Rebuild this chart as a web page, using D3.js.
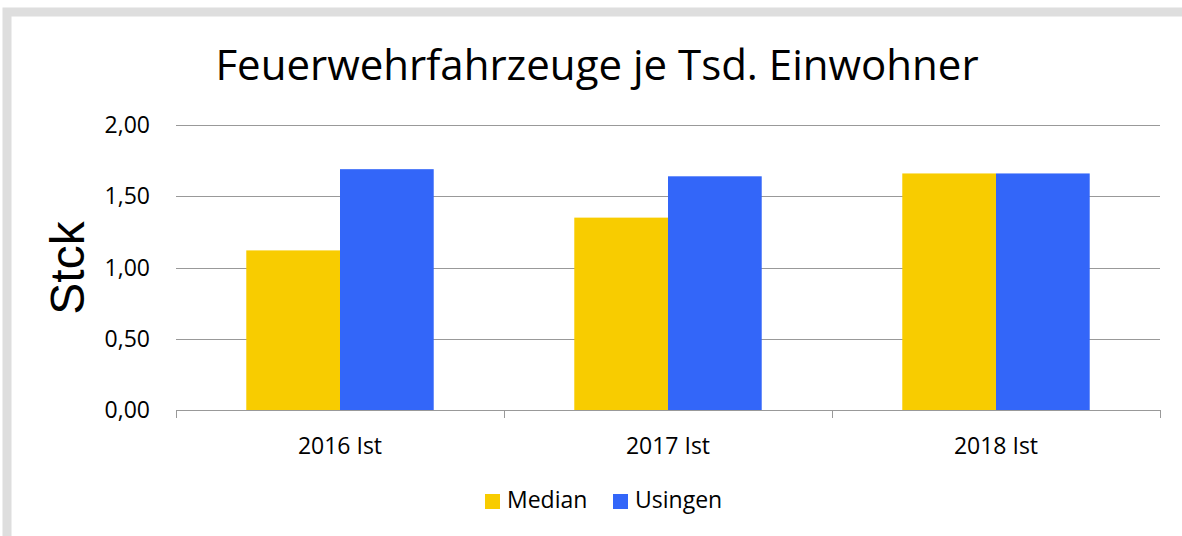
<!DOCTYPE html>
<html>
<head>
<meta charset="utf-8">
<script src="https://cdn.jsdelivr.net/npm/d3@7"></script>
<style>
  body { margin: 0; background: #fff; }
  text { font-family: "Open Sans", sans-serif; fill: #000; }
</style>
</head>
<body>
<svg id="chart" width="1182" height="536"></svg>
<script>
const categories = ['2016 Ist', '2017 Ist', '2018 Ist'];
const seriesNames = ['Median', 'Usingen'];
const medianValues = [1.12, 1.35, 1.66];
const usingenValues = [1.69, 1.64, 1.66];
const yTicks = [0, 0.5, 1, 1.5, 2];
const colors = ['#f8cc00', '#3366f9'];

const svg = d3.select('#chart');
const margin = { top: 125, left: 176, right: 22, bottom: 126 };
const width = 1182 - margin.left - margin.right;
const height = 536 - margin.top - margin.bottom;

// outer frame
svg.append('rect')
  .attr('x', 7).attr('y', 12)
  .attr('width', 1190).attr('height', 540)
  .attr('fill', 'none')
  .attr('stroke', '#dedede')
  .attr('stroke-width', 9);

const g = svg.append('g').attr('transform', `translate(${margin.left},${margin.top})`);

const x0 = d3.scaleBand().domain(categories).range([0, width]).padding(0);
const x1 = d3.scaleBand().domain(seriesNames)
  .range([0, x0.bandwidth()]).paddingOuter(0.75).paddingInner(0);
const y = d3.scaleLinear().domain([0, 2]).range([height, 0]);

// gridlines
g.selectAll('line.grid')
  .data(yTicks.slice(1))
  .enter().append('line')
  .attr('class', 'grid')
  .attr('x1', 0).attr('x2', width)
  .attr('y1', d => Math.round(y(d)) + 0.5)
  .attr('y2', d => Math.round(y(d)) + 0.5)
  .attr('stroke', '#999')
  .attr('stroke-width', 1);

// bars
const rows = categories.map((c, i) => ({ cat: c, vals: [medianValues[i], usingenValues[i]] }));
const grp = g.selectAll('g.cat')
  .data(rows)
  .enter().append('g')
  .attr('transform', d => `translate(${x0(d.cat)},0)`);

grp.selectAll('rect')
  .data(d => d.vals.map((v, j) => ({ name: seriesNames[j], v, j })))
  .enter().append('rect')
  .attr('x', d => x1(d.name))
  .attr('y', d => y(d.v))
  .attr('width', x1.bandwidth())
  .attr('height', d => height - y(d.v))
  .attr('fill', d => colors[d.j]);

// y tick labels
g.selectAll('text.ytick')
  .data(yTicks)
  .enter().append('text')
  .attr('class', 'ytick')
  .attr('x', -26)
  .attr('y', d => y(d) + 8)
  .attr('text-anchor', 'end')
  .style('font-size', '23px')
  .text(d => d3.format('.2f')(d).replace('.', ','));

// x axis: baseline plus category boundary ticks
const ax = g.append('g').attr('transform', `translate(0,${height})`);
const bounds = [0, width / 3, (2 * width) / 3, width];
ax.append('line')
  .attr('x1', 0).attr('x2', width)
  .attr('y1', 0.5).attr('y2', 0.5)
  .attr('stroke', '#999');
ax.selectAll('line.tk')
  .data(bounds)
  .enter().append('line')
  .attr('class', 'tk')
  .attr('x1', d => Math.round(d) + 0.5).attr('x2', d => Math.round(d) + 0.5)
  .attr('y1', 0).attr('y2', 8)
  .attr('stroke', '#999');

g.selectAll('text.xlab')
  .data(categories)
  .enter().append('text')
  .attr('class', 'xlab')
  .attr('x', d => x0(d) + x0.bandwidth() / 2)
  .attr('y', height + 44)
  .attr('text-anchor', 'middle')
  .style('font-size', '23px')
  .text(d => d);

// title
svg.append('text')
  .attr('x', 597).attr('y', 80)
  .attr('text-anchor', 'middle')
  .style('font-size', '42px')
  .text('Feuerwehrfahrzeuge je Tsd. Einwohner');

// y axis title
svg.append('text')
  .attr('transform', 'translate(84,268) rotate(-90)')
  .attr('text-anchor', 'middle')
  .style('font-family', 'Liberation Sans, Arial, sans-serif')
  .style('font-size', '48px')
  .text('Stck');

// legend
const legend = svg.append('g').attr('transform', 'translate(485,494)');
const items = [{ name: seriesNames[0], x: 0 }, { name: seriesNames[1], x: 128 }];
items.forEach((it, i) => {
  legend.append('rect')
    .attr('x', it.x).attr('y', 0)
    .attr('width', 15).attr('height', 15)
    .attr('fill', colors[i]);
  legend.append('text')
    .attr('x', it.x + 22).attr('y', 14)
    .style('font-size', '23px')
    .text(it.name);
});
</script>
</body>
</html>
